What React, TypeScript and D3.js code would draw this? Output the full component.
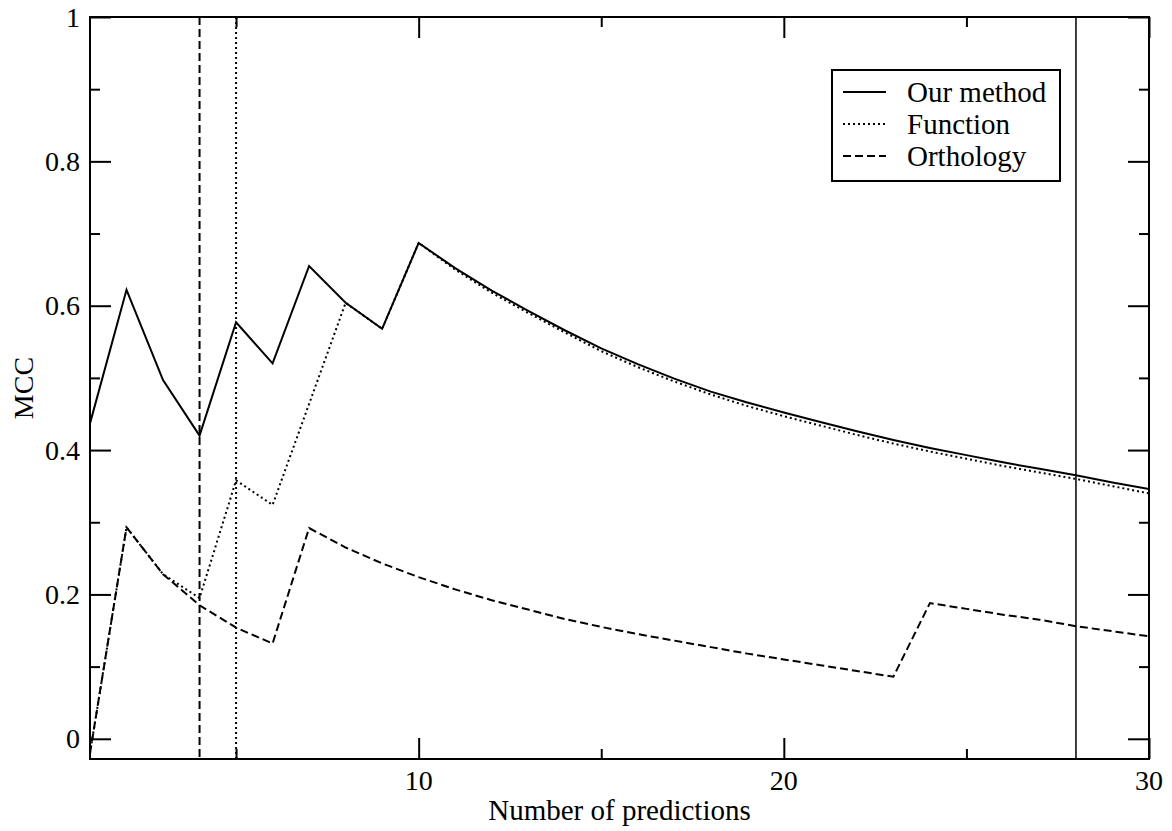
import React, { useEffect, useRef } from 'react';
import * as d3 from 'd3';

// number of predictions (x)
const predictions = d3.range(1, 31);

// MCC per number of predictions
const ourMethod = [
  0.437, 0.622, 0.497, 0.42, 0.577, 0.52, 0.655, 0.604, 0.568, 0.687,
  0.652, 0.621, 0.593, 0.566, 0.541, 0.519, 0.499, 0.481, 0.466, 0.452,
  0.439, 0.426, 0.414, 0.403, 0.393, 0.383, 0.374, 0.365, 0.355, 0.346,
];
const functionMcc = [
  -0.02, 0.293, 0.228, 0.195, 0.358, 0.324, 0.464, 0.604, 0.568, 0.687,
  0.65, 0.618, 0.59, 0.563, 0.537, 0.515, 0.495, 0.477, 0.461, 0.447,
  0.434, 0.421, 0.409, 0.398, 0.388, 0.378, 0.369, 0.36, 0.35, 0.34,
];
const orthology = [
  -0.02, 0.293, 0.228, 0.185, 0.154, 0.132, 0.292, 0.265, 0.243, 0.224,
  0.207, 0.192, 0.179, 0.166, 0.155, 0.145, 0.136, 0.127, 0.118, 0.11,
  0.102, 0.094, 0.086, 0.188, 0.18, 0.172, 0.165, 0.156, 0.149, 0.142,
];

// vertical marker lines
const markers = [
  { x: 4, dash: '8,4', width: 2 },
  { x: 5, dash: '2,3', width: 2 },
  { x: 28, dash: null, width: 1.5 },
];

const seriesNames = ['Our method', 'Function', 'Orthology'];
const seriesDash = [null, '2,3', '8,4'];

const yMajor = [0, 0.2, 0.4, 0.6, 0.8, 1];
const yMinor = [0.1, 0.3, 0.5, 0.7, 0.9];
const xMajor = [10, 20, 30];
const xMinor = [5, 15, 25];

const FONT = "'Liberation Serif', 'Times New Roman', Times, serif";

const App: React.FC = () => {
  const svgRef = useRef<SVGSVGElement>(null);

  useEffect(() => {
    if (!svgRef.current) return;
    document.body.style.margin = '0';

    const svg = d3.select(svgRef.current);
    svg.selectAll('*').remove();

    const left = 90, right = 1149, top = 17, bottom = 759;

    const x = d3.scaleLinear().domain([1, 30]).range([left, right]);
    const y = d3.scaleLinear().domain([-0.028, 1]).range([bottom, top]);

    svg.append('clipPath').attr('id', 'plot-clip')
      .append('rect')
      .attr('x', left).attr('y', top)
      .attr('width', right - left).attr('height', bottom - top);

    // Ticks (inward, on all four sides) - labels drawn separately below
    const tickAxis = (axis: d3.Axis<d3.NumberValue>, tx: number, ty: number) => {
      const g = svg.append('g').attr('transform', `translate(${tx},${ty})`).call(axis);
      g.select('.domain').remove();
      g.selectAll('text').remove();
      g.selectAll('line').attr('stroke', '#000').attr('stroke-width', 2);
    };
    tickAxis(d3.axisLeft(y).tickValues(yMajor).tickSize(-21), left, 0);
    tickAxis(d3.axisLeft(y).tickValues(yMinor).tickSize(-10), left, 0);
    tickAxis(d3.axisRight(y).tickValues(yMajor).tickSize(-21), right, 0);
    tickAxis(d3.axisRight(y).tickValues(yMinor).tickSize(-10), right, 0);
    tickAxis(d3.axisBottom(x).tickValues(xMajor).tickSize(-21), 0, bottom);
    tickAxis(d3.axisBottom(x).tickValues(xMinor).tickSize(-10), 0, bottom);
    tickAxis(d3.axisTop(x).tickValues(xMajor).tickSize(-21), 0, top);
    tickAxis(d3.axisTop(x).tickValues(xMinor).tickSize(-10), 0, top);

    // Tick labels
    svg.append('g')
      .selectAll('text')
      .data(yMajor)
      .enter()
      .append('text')
      .attr('x', left - 10)
      .attr('y', d => y(d))
      .attr('dy', '0.34em')
      .attr('text-anchor', 'end')
      .attr('font-family', FONT)
      .attr('font-size', 28)
      .text(d => String(d));

    svg.append('g')
      .selectAll('text')
      .data(xMajor)
      .enter()
      .append('text')
      .attr('x', d => x(d))
      .attr('y', bottom + 31)
      .attr('text-anchor', 'middle')
      .attr('font-family', FONT)
      .attr('font-size', 28)
      .text(d => String(d));

    const plot = svg.append('g').attr('clip-path', 'url(#plot-clip)');

    // Vertical marker lines
    plot.selectAll('line.marker')
      .data(markers)
      .enter()
      .append('line')
      .attr('class', 'marker')
      .attr('x1', d => x(d.x)).attr('x2', d => x(d.x))
      .attr('y1', top).attr('y2', bottom)
      .attr('stroke', '#000')
      .attr('stroke-width', d => d.width)
      .attr('stroke-dasharray', d => d.dash);

    // Series lines
    const line = d3.line<number>()
      .x((_, i) => x(predictions[i]))
      .y(d => y(d));

    const seriesData = [ourMethod, functionMcc, orthology];
    // orthology and function first so the solid line sits on top
    [2, 1, 0].forEach(i => {
      plot.append('path')
        .datum(seriesData[i])
        .attr('d', line)
        .attr('fill', 'none')
        .attr('stroke', '#000')
        .attr('stroke-width', 2)
        .attr('stroke-dasharray', seriesDash[i]);
    });

    // Frame
    svg.append('rect')
      .attr('x', left).attr('y', top)
      .attr('width', right - left).attr('height', bottom - top)
      .attr('fill', 'none')
      .attr('stroke', '#000')
      .attr('stroke-width', 2);

    // Axis titles
    svg.append('text')
      .attr('x', (left + right) / 2)
      .attr('y', 820)
      .attr('text-anchor', 'middle')
      .attr('font-family', FONT)
      .attr('font-size', 29)
      .text('Number of predictions');

    svg.append('text')
      .attr('transform', `translate(33,${(top + bottom) / 2}) rotate(-90)`)
      .attr('text-anchor', 'middle')
      .attr('font-family', FONT)
      .attr('font-size', 28)
      .text('MCC');

    // Legend
    const legend = svg.append('g');
    legend.append('rect')
      .attr('x', 832).attr('y', 70)
      .attr('width', 228).attr('height', 111)
      .attr('fill', '#fff')
      .attr('stroke', '#000')
      .attr('stroke-width', 2);

    const rowY = [92, 124, 156];
    seriesNames.forEach((name, i) => {
      legend.append('line')
        .attr('x1', 843).attr('x2', 886)
        .attr('y1', rowY[i]).attr('y2', rowY[i])
        .attr('stroke', '#000')
        .attr('stroke-width', 2)
        .attr('stroke-dasharray', seriesDash[i]);
      legend.append('text')
        .attr('x', 907)
        .attr('y', rowY[i] + 10)
        .attr('font-family', FONT)
        .attr('font-size', 29)
        .text(name);
    });
  }, []);

  return (
    <svg
      ref={svgRef}
      width={1172}
      height={831}
      style={{ display: 'block', background: '#fff', fontFamily: FONT }}
    />
  );
};

export default App;
